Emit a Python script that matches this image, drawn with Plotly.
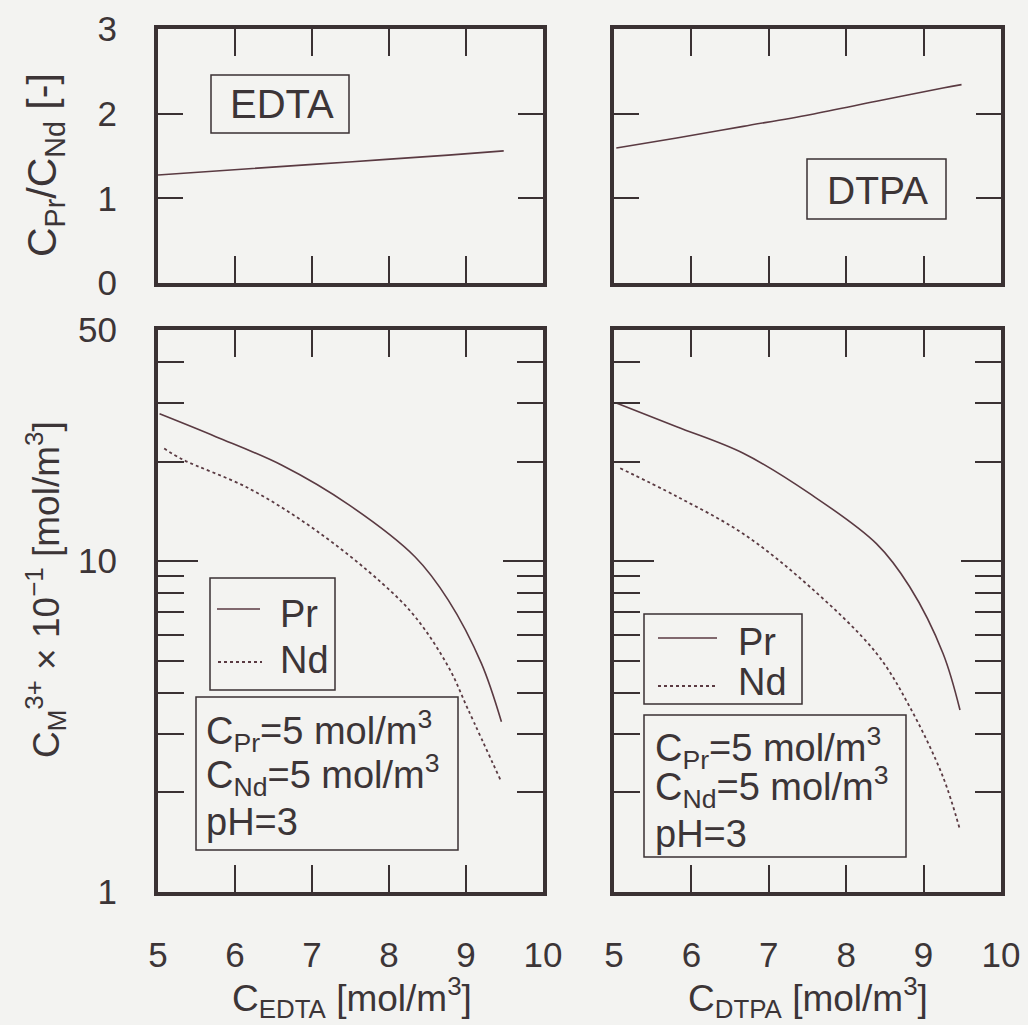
import math
import plotly.graph_objects as go

# ---------------- data ----------------
ratio_edta_x = [5.0, 6.18, 7.48, 8.77, 9.49]
ratio_edta = [1.275, 1.35, 1.43, 1.51, 1.56]
ratio_dtpa_x = [5.03, 5.81, 6.67, 7.53, 8.39, 9.25, 9.49]
ratio_dtpa = [1.594, 1.712, 1.850, 1.988, 2.146, 2.304, 2.343]

pr_edta_x = [5.02, 5.75, 6.61, 7.48, 8.34, 8.77, 9.20, 9.46]
pr_edta = [27.9, 23.8, 19.5, 14.8, 10.3, 7.63, 4.91, 3.27]
nd_edta_x = [5.08, 5.32, 6.18, 7.05, 7.91, 8.34, 8.77, 9.03, 9.46]
nd_edta = [21.9, 20.3, 16.6, 12.4, 8.58, 6.79, 4.80, 3.55, 2.15]

pr_dtpa_x = [5.03, 5.81, 6.67, 7.53, 8.39, 8.82, 9.25, 9.47]
pr_dtpa = [30.1, 25.5, 21.2, 16.0, 11.3, 8.37, 5.27, 3.55]
nd_dtpa_x = [5.08, 5.81, 6.67, 7.53, 8.39, 8.82, 9.25, 9.47]
nd_dtpa = [19.1, 15.7, 12.1, 8.37, 5.27, 3.63, 2.23, 1.54]

x_ticks = [5, 6, 7, 8, 9, 10]
x_ticktext = ["5", "6", "7", "8", "9", "10"]
ratio_ticks = [0, 1, 2, 3]
conc_major = [1, 10, 50]
conc_minor = [2, 3, 4, 5, 6, 7, 8, 9, 20, 30, 40]

# ---------------- style ----------------
W, H = 1028, 1025
BG = "#f3f3f1"
BORDER = "#3a3133"
TEXT = "#3c3537"
CURVE = "#5a3a42"
FONT = "Liberation Sans, Arial, sans-serif"

def fx(px):
    return px / W

def fy(py):
    return 1 - py / H

LEFT = [fx(158), fx(543)]
RIGHT = [fx(614), fx(1001)]
TOP = [fy(283), fy(29)]
BOTTOM = [fy(892), fy(330)]

fig = go.Figure()

line_solid = dict(color=CURVE, width=1.6, shape="spline", smoothing=1.0)
line_dot = dict(color=CURVE, width=1.8, dash="dot", shape="spline", smoothing=1.0)

fig.add_trace(go.Scatter(x=ratio_edta_x, y=ratio_edta, mode="lines", line=line_solid,
                         xaxis="x", yaxis="y", showlegend=False))
fig.add_trace(go.Scatter(x=ratio_dtpa_x, y=ratio_dtpa, mode="lines", line=line_solid,
                         xaxis="x2", yaxis="y2", showlegend=False))
fig.add_trace(go.Scatter(x=pr_edta_x, y=pr_edta, mode="lines", line=line_solid,
                         xaxis="x3", yaxis="y3", name="Pr", showlegend=False))
fig.add_trace(go.Scatter(x=nd_edta_x, y=nd_edta, mode="lines", line=line_dot,
                         xaxis="x3", yaxis="y3", name="Nd", showlegend=False))
fig.add_trace(go.Scatter(x=pr_dtpa_x, y=pr_dtpa, mode="lines", line=line_solid,
                         xaxis="x4", yaxis="y4", name="Pr", showlegend=False))
fig.add_trace(go.Scatter(x=nd_dtpa_x, y=nd_dtpa, mode="lines", line=line_dot,
                         xaxis="x4", yaxis="y4", name="Nd", showlegend=False))

tickfont = dict(family=FONT, size=35, color=TEXT)

def xaxis(domain, anchor, labels):
    return dict(domain=domain, anchor=anchor, range=[5, 10], tickmode="array",
                tickvals=x_ticks, ticktext=x_ticktext, showticklabels=labels,
                ticks="inside", ticklen=27, tickwidth=1.5, tickcolor=BORDER,
                showline=True, linewidth=4, linecolor=BORDER, mirror="ticks",
                showgrid=False, zeroline=False, tickfont=tickfont,
                ticklabelstandoff=29, automargin=False)

def yratio(domain, anchor, labels):
    return dict(domain=domain, anchor=anchor, range=[0, 3], tickmode="array",
                tickvals=ratio_ticks, ticktext=[str(v) for v in ratio_ticks],
                showticklabels=labels, ticks="inside", ticklen=25, tickwidth=1.5,
                tickcolor=BORDER, showline=True, linewidth=4, linecolor=BORDER,
                mirror="ticks", showgrid=False, zeroline=False, tickfont=tickfont,
                ticklabelstandoff=30, automargin=False)

def yconc(domain, anchor, labels):
    return dict(domain=domain, anchor=anchor, type="log",
                range=[0, math.log10(50)], tickmode="array",
                tickvals=conc_major, ticktext=[str(v) for v in conc_major],
                showticklabels=labels, ticks="inside", ticklen=40, tickwidth=1.5,
                tickcolor=BORDER, showline=True, linewidth=4, linecolor=BORDER,
                mirror="ticks", showgrid=False, zeroline=False, tickfont=tickfont,
                ticklabelstandoff=30, automargin=False,
                minor=dict(tickmode="array", tickvals=conc_minor, ticks="inside",
                           ticklen=26, tickwidth=1.5, tickcolor=BORDER, showgrid=False))

shapes = []
annotations = []

def box(x0, y0, x1, y1):
    shapes.append(dict(type="rect", xref="paper", yref="paper",
                       x0=fx(x0), x1=fx(x1), y0=fy(y1), y1=fy(y0),
                       line=dict(color=BORDER, width=1.5), fillcolor="rgba(0,0,0,0)"))

def seg(x0, x1, y, dash=None):
    ln = dict(color=CURVE, width=1.6 if dash is None else 1.8)
    if dash:
        ln["dash"] = dash
    shapes.append(dict(type="line", xref="paper", yref="paper",
                       x0=fx(x0), x1=fx(x1), y0=fy(y), y1=fy(y), line=ln))

def text(t, px, py, size=38, xanchor="left", angle=0, yanchor="middle"):
    annotations.append(dict(text=t, xref="paper", yref="paper", x=fx(px), y=fy(py),
                            xanchor=xanchor, yanchor=yanchor, showarrow=False,
                            textangle=angle,
                            font=dict(family=FONT, size=size, color=TEXT)))

# EDTA / DTPA labels
box(211, 75, 349, 133)
text("EDTA", 282, 104, size=40, xanchor="center")
box(807, 159, 946, 219)
text("DTPA", 877, 191, size=39, xanchor="center")

# legend boxes (left / right)
box(210, 578, 335, 690)
seg(217, 260, 609)
seg(218, 262, 662, dash="dot")
text("Pr", 278, 614)
text("Nd", 278, 660)

box(644, 614, 802, 704)
seg(658, 717, 638)
seg(658, 717, 686, dash="dot")
text("Pr", 736, 642)
text("Nd", 736, 682)

# condition boxes
box(196, 697, 458, 850)
text("C<sub>Pr</sub>=5 mol/m<sup>3</sup>", 204, 731)
text("C<sub>Nd</sub>=5 mol/m<sup>3</sup>", 204, 775)
text("pH=3", 204, 822)

box(644, 715, 906, 857)
text("C<sub>Pr</sub>=5 mol/m<sup>3</sup>", 653, 748)
text("C<sub>Nd</sub>=5 mol/m<sup>3</sup>", 653, 787)
text("pH=3", 653, 834)

# axis titles
text("C<sub>EDTA</sub> [mol/m<sup>3</sup>]", 352, 1025, size=37, xanchor="center",
     yanchor="bottom")
text("C<sub>DTPA</sub> [mol/m<sup>3</sup>]", 808, 1025, size=37, xanchor="center",
     yanchor="bottom")
text("C<sub>Pr</sub>/C<sub>Nd</sub> [-]", 45, 165, size=41, xanchor="center", angle=-90)
text("C<sub>M</sub><sup>3+</sup> × 10<sup>−1</sup> [mol/m<sup>3</sup>]", 45, 590,
     size=37, xanchor="center", angle=-90)

fig.update_layout(
    width=W, height=H, margin=dict(l=0, r=0, t=0, b=0, autoexpand=False),
    paper_bgcolor=BG, plot_bgcolor=BG, showlegend=False,
    xaxis=xaxis(LEFT, "y", False), yaxis=yratio(TOP, "x", True),
    xaxis2=xaxis(RIGHT, "y2", False), yaxis2=yratio(TOP, "x2", False),
    xaxis3=xaxis(LEFT, "y3", True), yaxis3=yconc(BOTTOM, "x3", True),
    xaxis4=xaxis(RIGHT, "y4", True), yaxis4=yconc(BOTTOM, "x4", False),
    shapes=shapes, annotations=annotations,
)

fig.write_html("out.html")
